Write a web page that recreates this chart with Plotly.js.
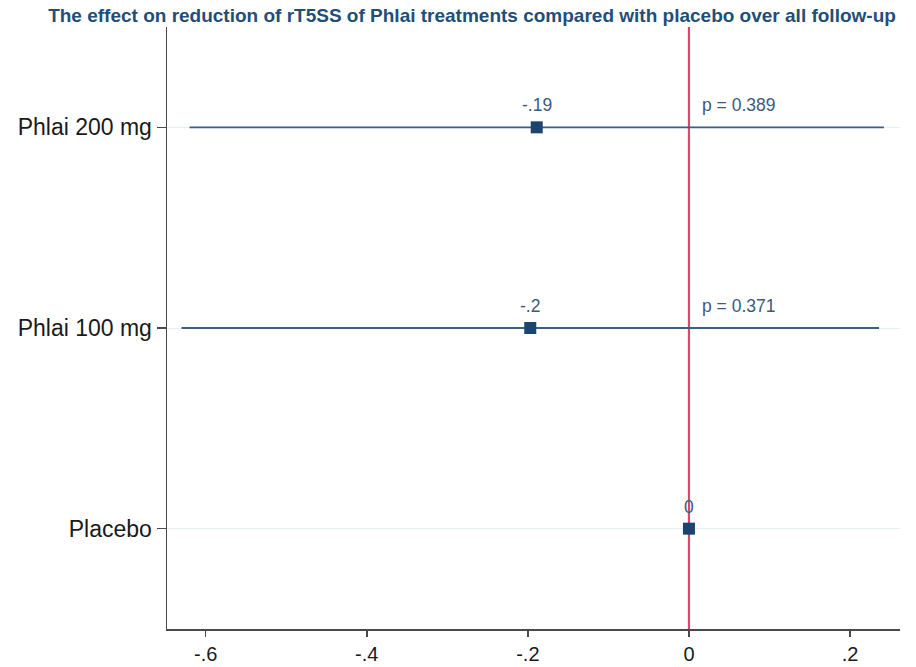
<!DOCTYPE html>
<html>
<head>
<meta charset="utf-8">
<script src="https://cdn.plot.ly/plotly-3.0.1.min.js"></script>
<style>html,body{margin:0;padding:0;background:#fff;}#chart{width:916px;height:667px;}</style>
</head>
<body>
<div id="chart"></div>
<script>
const categories = ["Placebo", "Phlai 100 mg", "Phlai 200 mg"];
const estimates = [0, -0.197, -0.189];
const ciLower = [0, -0.630, -0.620];
const ciUpper = [0, 0.236, 0.242];
const estLabels = ["0", "-.2", "-.19"];
const pLabels = ["", "p = 0.371", "p = 0.389"];
const xTickVals = [-0.6, -0.4, -0.2, 0, 0.2];
const xTickText = ["-.6", "-.4", "-.2", "0", ".2"];

const trace = {
  type: "scatter",
  mode: "markers",
  x: estimates,
  y: categories,
  marker: {symbol: "square", size: 12, color: "#1b4470"},
  error_x: {
    type: "data",
    symmetric: false,
    array: estimates.map((e, i) => ciUpper[i] - e),
    arrayminus: estimates.map((e, i) => e - ciLower[i]),
    width: 0,
    thickness: 1.8,
    color: "#3b5f82"
  },
  hoverinfo: "skip",
  showlegend: false
};

const annoFont = {family: "Liberation Sans, Arial, sans-serif", size: 17.5, color: "#3c5a7a"};
const annotations = [];
categories.forEach((c, i) => {
  annotations.push({
    x: estimates[i], y: c, xref: "x", yref: "y",
    text: estLabels[i], showarrow: false,
    yshift: 22, font: annoFont
  });
  if (pLabels[i]) {
    annotations.push({
      x: 0.014, y: c, xref: "x", yref: "y",
      text: pLabels[i], showarrow: false, xanchor: "left",
      yshift: 22, font: annoFont
    });
  }
});

const layout = {
  width: 916, height: 667,
  margin: {l: 167, r: 16, t: 27, b: 38},
  paper_bgcolor: "#ffffff",
  plot_bgcolor: "#ffffff",
  title: {
    text: "<b>The effect on reduction of rT5SS of Phlai treatments compared with placebo over all follow-up</b>",
    x: 472/916, xanchor: "center", y: 1 - 15/667, yanchor: "middle",
    font: {family: "Liberation Sans, Arial, sans-serif", size: 19, color: "#1f4e79"}
  },
  xaxis: {
    range: [-0.648, 0.262],
    tickvals: xTickVals, ticktext: xTickText,
    showgrid: false, zeroline: false,
    showline: true, linecolor: "#4a4a4a", linewidth: 1.5,
    ticks: "outside", ticklen: 6, tickcolor: "#4a4a4a", tickwidth: 1.5,
    ticklabelstandoff: 0,
    tickfont: {family: "Liberation Sans, Arial, sans-serif", size: 20, color: "#1a1a1a"}
  },
  yaxis: {
    type: "category",
    categoryorder: "array", categoryarray: categories,
    range: [-0.5, 2.5],
    showgrid: true, gridcolor: "#e4eff1", gridwidth: 1,
    zeroline: false,
    showline: true, linecolor: "#4a4a4a", linewidth: 1.5,
    ticks: "outside", ticklen: 9, tickcolor: "#4a4a4a", tickwidth: 1.5,
    tickfont: {family: "Liberation Sans, Arial, sans-serif", size: 23, color: "#1a1a1a"}
  },
  shapes: [{
    type: "line", xref: "x", yref: "paper", x0: 0, x1: 0, y0: 0, y1: 1,
    line: {color: "#e0456c", width: 2.2}, layer: "below"
  }],
  annotations: annotations
};

Plotly.newPlot("chart", [trace], layout, {displayModeBar: false, staticPlot: true});
</script>
</body>
</html>
